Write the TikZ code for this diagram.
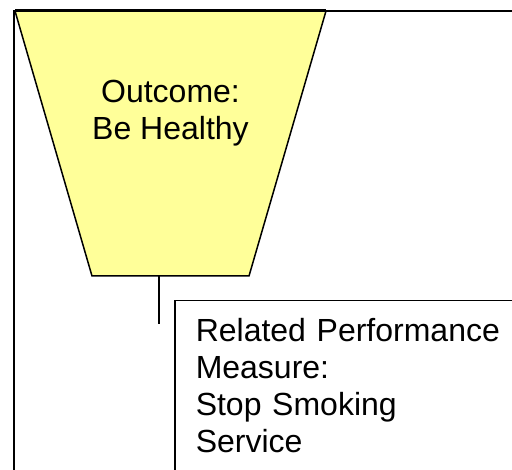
\documentclass[tikz,border=0pt]{standalone}
\usepackage{fontspec}
\setmainfont{Liberation Sans}
\usetikzlibrary{positioning}
\definecolor{outcomeclr}{RGB}{255,255,153}
\newcommand{\txtsize}{\fontsize{32pt}{37pt}\selectfont}

\begin{document}
\begin{tikzpicture}[x=1pt, y=-1pt,
    measurebox/.style={draw, line width=1.5pt, fill=white, anchor=north west,
        text width=330pt, align=left, inner xsep=21pt, inner ysep=18pt},
    link/.style={line width=2pt}]
    \useasboundingbox (0,0) rectangle (512,470);
    \clip (0,0) rectangle (512,470);

    % outer frame
    \draw[line width=2pt] (14,520) -- (14,11) -- (560,11);

    % funnel
    \coordinate (tl) at (15,11);
    \coordinate (tr) at (326,11);
    \coordinate (br) at (249,276);
    \coordinate (bl) at (92,276);
    \draw[line width=1.5pt, fill=outcomeclr] (tl) -- (tr) -- (br) -- (bl) -- cycle;
    \draw[line width=3pt] (tl) -- (tr);
    \node[align=center, font=\txtsize] (outcome) at (170.5,113.5) {Outcome:\\Be Healthy};

    \coordinate (stub) at (159,324);
    \draw[link] (bl -| stub) -- (stub);

    \node[measurebox, font=\txtsize] (measure) at (174,300)
        {Related Performance\\Measure:\\Stop Smoking\\Service\\\strut};

\end{tikzpicture}
\end{document}
